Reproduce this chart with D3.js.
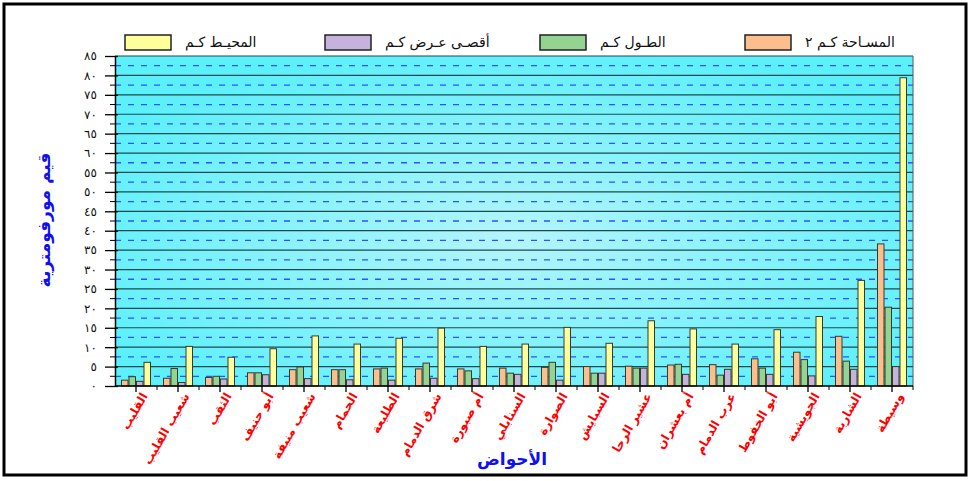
<!DOCTYPE html>
<html><head><meta charset="utf-8">
<script src="https://cdn.jsdelivr.net/npm/d3@7/dist/d3.min.js"></script>
<style>body{margin:0;background:#fff}svg{display:block}</style>
</head><body>
<svg id="c" width="972" height="481"></svg>
<script>
const categories = ["القليب","شعيب القليب","الثقب","أبو حنيف","شعيب منيفة","الحمام","الطليعة","شرق الدمام","أم صبورة","السنابلي","الصوارة","السبايش","عشير الرحا","أم بعشران","عرب الدمام","أبو الخفوط","الجويشية","الشاربة","وسيطة"];
const seriesNames = ["المسـاحة كـم ٢","الطـول كـم","أقصـى عـرض كـم","المحيـط كـم"];
const areaKm2   = [1.5,2.0,2.2,3.4,4.2,4.2,4.4,4.4,4.4,4.6,4.8,5.0,5.1,5.4,5.5,7.0,8.7,12.8,36.6];
const lengthKm  = [2.4,4.5,2.5,3.4,4.9,4.2,4.6,5.9,3.9,3.3,6.1,3.3,4.6,5.6,2.8,4.6,6.8,6.4,20.3];
const widthKm   = [1.2,0.9,1.8,2.9,1.9,1.6,1.5,2.0,1.9,3.0,1.5,3.3,4.6,3.0,4.3,3.0,2.6,4.3,5.0];
const perimKm   = [6.1,10.2,7.4,9.6,12.9,10.8,12.3,14.9,10.2,10.8,15.1,11.0,16.8,14.7,10.8,14.5,17.9,27.2,79.4];
const yTicks = [0,5,10,15,20,25,30,35,40,45,50,55,60,65,70,75,80,85];
const colors = ["#fbbf8e","#93d493","#c5b3de","#ffff9c"];
const values = [areaKm2, lengthKm, widthKm, perimKm];

const ar = n => String(n).replace(/\d/g, d => "٠١٢٣٤٥٦٧٨٩"[d]);
const font = "'DejaVu Sans', sans-serif";
const svg = d3.select("#c");
const L = 115, R = 913, T = 56, B = 386;

// frame
svg.append("rect").attr("x",4).attr("y",4).attr("width",962).attr("height",471)
  .attr("fill","#fff").attr("stroke","#000").attr("stroke-width",3);

const defs = svg.append("defs");
const g = defs.append("radialGradient").attr("id","bg").attr("cx","50%").attr("cy","55%").attr("r","60%");
g.append("stop").attr("offset","0%").attr("stop-color","#b4f5fb");
g.append("stop").attr("offset","100%").attr("stop-color","#5cf0fb");

const x0 = d3.scaleBand().domain(categories).range([L, R]).padding(0);
const x1 = d3.scaleBand().domain(seriesNames).range([6, x0.bandwidth()-6]).padding(0);
const y = d3.scaleLinear().domain([0,85]).range([B, T]);

svg.append("rect").attr("x",L).attr("y",T).attr("width",R-L).attr("height",B-T).attr("fill","url(#bg)");

// gridlines
const half = yTicks.slice(0,-1).map(v => v+2.5);
svg.append("g").selectAll("line").data(half).join("line")
  .attr("x1",L).attr("x2",R).attr("y1",d=>y(d)).attr("y2",d=>y(d))
  .attr("stroke","#2a55ff").attr("stroke-width",1.3).attr("stroke-dasharray","6,7");
svg.append("g").selectAll("line").data(yTicks.slice(1)).join("line")
  .attr("x1",L).attr("x2",R).attr("y1",d=>y(d)).attr("y2",d=>y(d))
  .attr("stroke","#1d4a50").attr("stroke-width",1.2);

// bars
const groups = svg.append("g").selectAll("g").data(categories).join("g")
  .attr("transform", c => `translate(${x0(c)},0)`);
groups.selectAll("rect").data((c,i) => seriesNames.map((s,k) => ({s, k, v: values[k][i]})))
  .join("rect")
  .attr("x", d => x1(d.s)+0.5).attr("width", x1.bandwidth()-1)
  .attr("y", d => y(d.v)).attr("height", d => B - y(d.v))
  .attr("fill", d => colors[d.k]).attr("stroke","#3a3a2a").attr("stroke-width",1);

// right border
svg.append("line").attr("x1",R).attr("x2",R).attr("y1",T).attr("y2",B).attr("stroke","#556").attr("stroke-width",1);

// y axis
const yAxis = d3.axisLeft(y).tickValues(yTicks).tickFormat(ar).tickSize(10).tickSizeOuter(0);
const ya = svg.append("g").attr("transform",`translate(${L},0)`).call(yAxis);
ya.select(".domain").attr("stroke","#000").attr("stroke-width",1.5);
ya.selectAll(".tick line").attr("stroke","#000").attr("stroke-width",1.3).attr("x2",-10).attr("x1",3);
ya.selectAll(".tick text").attr("font-family",font).attr("font-size",12).attr("fill","#111").attr("x",-18);
svg.append("g").selectAll("line").data(half).join("line")
  .attr("x1",L-5).attr("x2",L).attr("y1",d=>y(d)).attr("y2",d=>y(d)).attr("stroke","#000");

// x axis
svg.append("line").attr("x1",L).attr("x2",R).attr("y1",B).attr("y2",B).attr("stroke","#000").attr("stroke-width",1.5);
svg.append("g").selectAll("line").data(categories).join("line")
  .attr("x1",c=>x0(c)+x0.bandwidth()/2).attr("x2",c=>x0(c)+x0.bandwidth()/2)
  .attr("y1",B).attr("y2",B+6).attr("stroke","#000").attr("stroke-width",1.3);
svg.append("g").selectAll("line").data(categories).join("line")
  .attr("x1",c=>x0(c)+x0.bandwidth()).attr("x2",c=>x0(c)+x0.bandwidth())
  .attr("y1",B).attr("y2",B+4).attr("stroke","#000");
svg.append("g").selectAll("text").data(categories).join("text")
  .attr("transform", c => `translate(${x0(c)+x0.bandwidth()/2+12},${B+10}) rotate(-60)`)
  .attr("text-anchor","end").attr("font-family",font).attr("font-size",12).attr("font-weight","bold")
  .attr("fill","#ff0000").text(c=>c);

// axis titles
svg.append("text").attr("transform","translate(50,220) rotate(-90)").attr("text-anchor","middle")
  .attr("font-family",font).attr("font-size",17).attr("font-weight","bold").attr("fill","#1010ee").text("قيم مورفومترية");
svg.append("text").attr("x",512).attr("y",465).attr("text-anchor","middle")
  .attr("font-family",font).attr("font-size",17).attr("font-weight","bold").attr("fill","#1010ee").text("الأحواض");

// legend
const legX = [745, 540, 325, 125];
const lg = svg.append("g").selectAll("g").data(seriesNames).join("g")
  .attr("transform",(s,i)=>`translate(${legX[i]},35)`);
lg.append("rect").attr("width",46).attr("height",15).attr("fill",(s,i)=>colors[i]).attr("stroke","#222").attr("stroke-width",1.5);
lg.append("text").attr("x",60).attr("y",12).attr("font-family",font).attr("font-size",14).attr("fill","#111").text(s=>s);
</script>
</body></html>
